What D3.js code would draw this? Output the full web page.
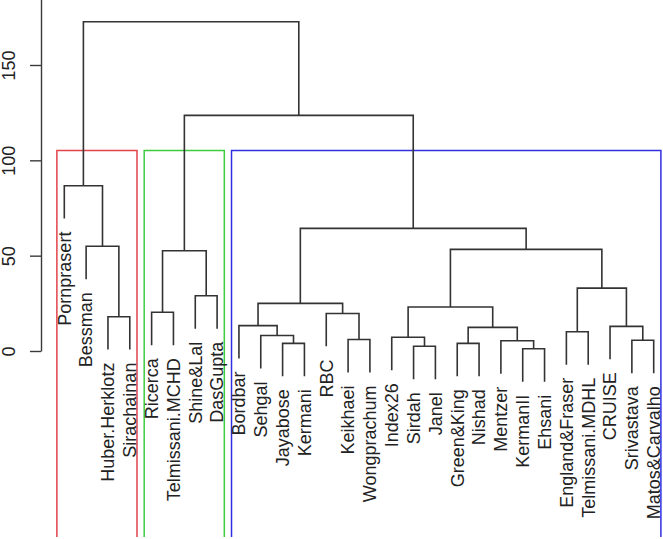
<!DOCTYPE html>
<html>
<head>
<meta charset="utf-8">
<script src="https://cdn.jsdelivr.net/npm/d3@7/dist/d3.min.js"></script>
<style>
  html, body { margin: 0; padding: 0; background: #fff; }
  svg { display: block; }
</style>
</head>
<body>
<svg id="chart" width="663" height="539"></svg>
<script>
// ---- data ----
const leafLabels = [
  "Pornprasert", "Bessman", "Huber.Herklotz", "Sirachainan",
  "Ricerca", "Telmissani.MCHD", "Shine&Lal", "DasGupta",
  "Bordbar", "Sehgal", "Jayabose", "Kermani", "RBC", "Keikhaei", "Wongprachum",
  "Index26", "Sirdah", "Janel", "Green&King", "Nishad", "Mentzer", "KermanII", "Ehsani",
  "England&Fraser", "Telmissani.MDHL", "CRUISE", "Srivastava", "Matos&Carvalho"
];
// R-style merge table: negative = leaf (1-based, in display order), positive = earlier merge
const mergeA = [-22, -17, -11, -19, -21, -27, -14, -16, -10, -24, 4, -26, -9, -3, -13, -5, 8, 13, -7, 10, 16, 17, -2, 18, -1, 21, 25];
const mergeB = [-23, -18, -12, -20, 1, -28, -15, 2, 3, -25, 5, 6, 9, -4, 7, -6, 11, 15, -8, 12, 19, 20, 14, 22, 23, 24, 26];
const mergeHeight = [1.2, 2.5, 4.0, 4.0, 5.4, 5.6, 6.0, 7.2, 8.1, 10.1, 12.4, 12.9, 13.3, 18.0, 19.7, 20.3, 23.1, 25.0, 29.0, 33.0, 52.6, 53.3, 54.9, 64.3, 86.7, 123.6, 172.7];
const axisTicks = [0, 50, 100, 150];
const clusterColors = ["#e2434b", "#3fcc3f", "#3030e0"];
const clusterLeafRanges = [[1, 4], [5, 8], [9, 28]];

// ---- build hierarchy ----
function node(ref) {
  if (ref < 0) return { leaf: -ref, name: leafLabels[-ref - 1] };
  const i = ref - 1;
  return { height: mergeHeight[i], children: [node(mergeA[i]), node(mergeB[i])] };
}
const root = d3.hierarchy(node(mergeA.length));

const svg = d3.select("#chart");
const x = d3.scaleLinear().domain([1, leafLabels.length]).range([64.3, 653.7]);
const y = d3.scaleLinear().domain([0, 200]).range([351, 351 - 200 * 1.9067]);
const step = x(2) - x(1);
const maxH = d3.max(mergeHeight);
const hang = 0.1 * maxH;

root.eachAfter(d => {
  if (!d.children) {
    d.x = x(d.data.leaf);
    d.h = d.parent.data.height - hang;
  } else {
    d.x = (d.children[0].x + d.children[1].x) / 2;
    d.h = d.data.height;
  }
  d.y = y(d.h);
});

// ---- axis ----
const axis = d3.axisLeft(y).tickValues(axisTicks).tickSize(11).tickSizeOuter(0).tickFormat(d3.format("d"));
const gAxis = svg.append("g").attr("transform", "translate(41,0)").call(axis);
gAxis.select(".domain").attr("stroke", "#3a3a3a").attr("stroke-width", 1.4);
gAxis.selectAll(".tick line").attr("stroke", "#3a3a3a").attr("stroke-width", 1.4);
gAxis.selectAll(".tick text")
  .attr("x", null).attr("dy", null)
  .attr("text-anchor", "middle")
  .attr("transform", "translate(-26,0) rotate(-90)")
  .attr("fill", "#222")
  .style("font-family", "'Liberation Sans', Arial, sans-serif")
  .style("font-size", "18px");

// ---- cluster rectangles ----
const sortedH = mergeHeight.slice().sort((a, b) => b - a);
const rectTop = y((sortedH[1] + sortedH[2]) / 2);
const rectBottom = 537;
clusterLeafRanges.forEach((r, i) => {
  const x0 = x(r[0]) - 0.34 * step, x1 = x(r[1]) + 0.33 * step;
  svg.append("path")
    .attr("d", `M${x0},${rectBottom}V${rectTop}H${x1}V${rectBottom}`)
    .attr("fill", "none")
    .attr("stroke", clusterColors[i])
    .attr("stroke-width", 1.5);
});

// ---- tree ----
const links = root.descendants().filter(d => d.children);
svg.append("g").selectAll("path").data(links).join("path")
  .attr("d", d => {
    const [a, b] = d.children;
    return `M${a.x},${a.y}V${d.y}H${b.x}V${b.y}`;
  })
  .attr("fill", "none")
  .attr("stroke", "#333")
  .attr("stroke-width", 1.6);

// ---- labels ----
svg.append("g").selectAll("text").data(root.leaves()).join("text")
  .attr("transform", d => `translate(${d.x},${d.y + 13}) rotate(-90)`)
  .attr("dy", "0.35em")
  .attr("text-anchor", "end")
  .attr("fill", "#222")
  .style("font-family", "'Liberation Sans', Arial, sans-serif")
  .style("font-size", "18px")
  .text(d => d.data.name);
</script>
</body>
</html>
